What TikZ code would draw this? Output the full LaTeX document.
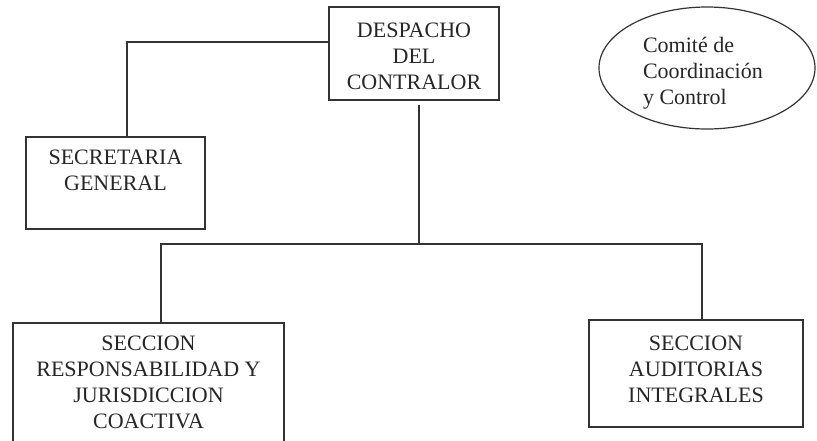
\documentclass[tikz,border=0pt]{standalone}
\usepackage{fontspec}
\setmainfont{Liberation Serif}
\usetikzlibrary{calc,shapes.geometric}
\begin{document}
\begin{tikzpicture}[x=1pt,y=-1pt,
  every node/.style={inner sep=0pt,outer sep=0pt},
  orgbox/.style={draw=black!80,line width=1.2pt,rectangle,anchor=north west},
  orgtxt/.style={align=center,anchor=north,text=black!85,font=\fontsize{22}{26}\selectfont},
  conn/.style={draw=black!80,line width=1.2pt}]
\useasboundingbox (0,0) rectangle (817,440);
% boxes
\node[orgbox,minimum width=170pt,minimum height=93pt] (desp) at (329,7) {};
\node[orgtxt] (desptxt) at (414,23) {DESPACHO\\DEL\\CONTRALOR};
\node[orgbox,minimum width=179pt,minimum height=92pt] (sec) at (26,137) {};
\node[orgtxt] (sectxt) at (115.5,150) {SECRETARIA\\GENERAL};
\node[orgbox,minimum width=271pt,minimum height=125pt] (resp) at (13,323) {};
\node[orgtxt] (resptxt) at (148.5,336) {SECCION\\RESPONSABILIDAD Y\\JURISDICCION\\COACTIVA};
\node[orgbox,minimum width=214pt,minimum height=107pt] (aud) at (589,320) {};
\node[orgtxt] (audtxt) at (696,336) {SECCION\\AUDITORIAS\\INTEGRALES};
% ellipse
\node[draw=black!80,line width=1.2pt,ellipse,minimum width=216pt,minimum height=122pt] (com) at (707,68) {};
\node[align=left,anchor=north west,text=black!85,font=\fontsize{22}{26}\selectfont] (comtxt) at (643,37) {Comité de\\Coordinación\\y Control};
% connectors
\draw[conn] ($(desp.north west)+(0,35)$) -| ($(sec.north)+(11.5,0)$);
\coordinate (bus) at ($(desp.south)+(5,144)$);
\draw[conn] ($(desp.south)+(5,5)$) -- (bus);
\draw[conn] ($(resp.north)+(12.5,0)$) |- (bus);
\draw[conn] (bus) -| ($(aud.north)+(6,0)$);
\end{tikzpicture}
\end{document}
